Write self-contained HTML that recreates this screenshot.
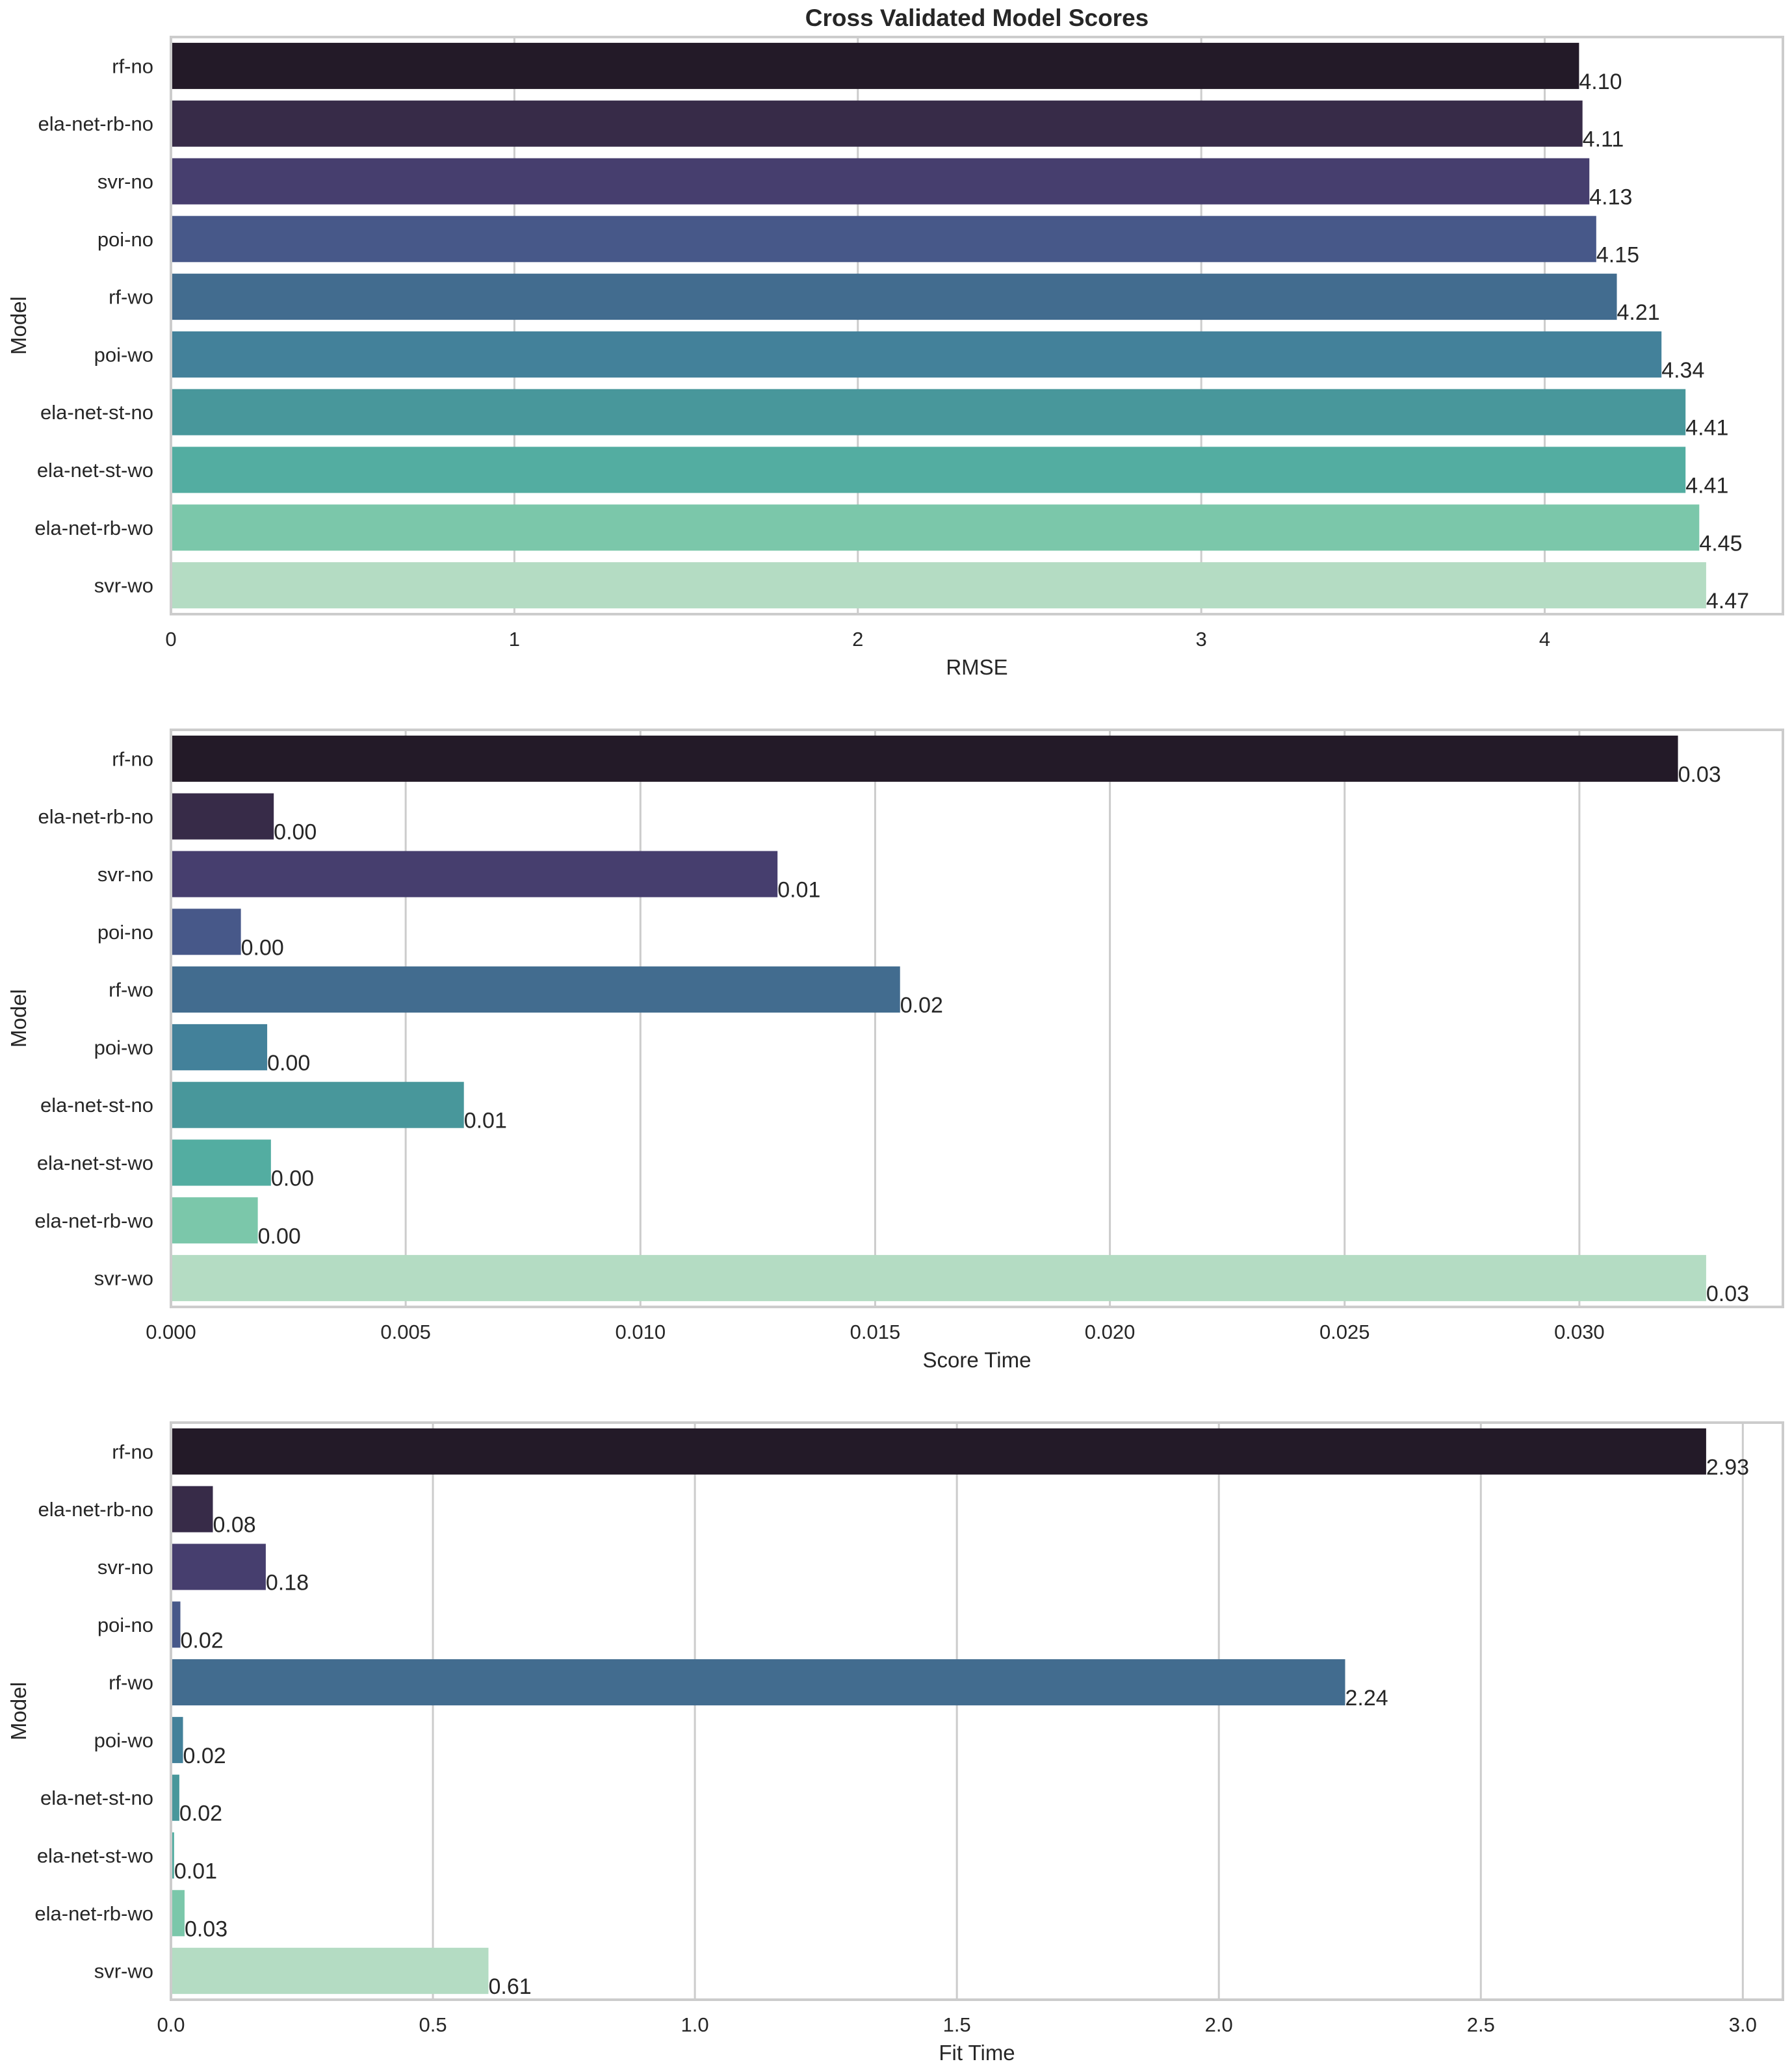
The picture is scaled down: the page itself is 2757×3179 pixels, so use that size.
<!DOCTYPE html>
<html><head><meta charset="utf-8"><style>
html,body{margin:0;padding:0;background:#fff;}
svg{display:block;font-family:"Liberation Sans",Arial,sans-serif;}
</style></head><body>
<svg id="chart" width="2757" height="3179" viewBox="0 0 2757 3179" xmlns="http://www.w3.org/2000/svg">
<rect width="2757" height="3179" fill="#fff"/>
<text x="1503" y="40" text-anchor="middle" font-size="37" font-weight="bold" fill="#262626">Cross Validated Model Scores</text>
</svg>
<script>
const categories = ["rf-no","ela-net-rb-no","svr-no","poi-no","rf-wo","poi-wo","ela-net-st-no","ela-net-st-wo","ela-net-rb-wo","svr-wo"];
const colors = ["#231a28","#372b48","#463e6e","#475889","#426c8f","#43819a","#48979b","#53ada1","#7bc7aa","#b4dcc3"];
const rmseValues = [4.10,4.11,4.13,4.15,4.21,4.34,4.41,4.41,4.45,4.47];
const scoreTimeValues = [0.0321,0.00219,0.01292,0.00149,0.01553,0.00205,0.00624,0.00213,0.00185,0.0327];
const fitTimeValues = [2.93,0.080,0.181,0.018,2.241,0.023,0.016,0.006,0.026,0.606];
const rmseTicks = [0,1,2,3,4];
const scoreTicks = [0,0.005,0.010,0.015,0.020,0.025,0.030];
const fitTicks = [0,0.5,1.0,1.5,2.0,2.5,3.0];
const rmseTickLabels = ["0","1","2","3","4"];
const scoreTickLabels = ["0.000","0.005","0.010","0.015","0.020","0.025","0.030"];
const fitTickLabels = ["0.0","0.5","1.0","1.5","2.0","2.5","3.0"];

const svg = document.getElementById('chart');
const NS = "http://www.w3.org/2000/svg";
function mk(tag, attrs){const e=document.createElementNS(NS,tag);for(const k in attrs)e.setAttribute(k,attrs[k]);return e;}

function panel(top, values, ticks, tickLabels, xlabel, key){
  const L=263, R=2743, B=top+888, H=888;
  const vmax=Math.max(...values)*1.05;
  const x=v=>L+(v/vmax)*(R-L);
  const step=H/categories.length;
  const g=mk('g',{});
  
  
  svg.appendChild(g);
  ticks.forEach((t,i)=>{
    const gl=mk('line',{x1:x(t),x2:x(t),y1:top,y2:B,stroke:'#cccccc','stroke-width':3});
    
    
    g.appendChild(gl);
    const tl=mk('text',{x:x(t),y:B+49,'text-anchor':'middle','font-size':31,fill:'#262626'});
    tl.textContent=tickLabels[i];
    
    
    g.appendChild(tl);
  });
  categories.forEach((c,i)=>{
    const cy=top+step*(i+0.5);
    const bh=step*0.8;
    const r=mk('rect',{x:L,y:cy-bh/2,width:x(values[i])-L,height:bh,fill:colors[i]});
    
    
    g.appendChild(r);
    const vl=mk('text',{x:x(values[i]),y:cy+bh/2,'font-size':34,fill:'#262626'});
    vl.textContent=values[i].toFixed(2);
    
    
    g.appendChild(vl);
    const yl=mk('text',{x:236,y:cy+11,'text-anchor':'end','font-size':31,fill:'#262626'});
    yl.textContent=c;
    
    
    g.appendChild(yl);
  });
  const fr=mk('rect',{x:L,y:top,width:R-L,height:H,fill:'none',stroke:'#cccccc','stroke-width':4});
  
  
  g.appendChild(fr);
  const xl=mk('text',{x:(L+R)/2,y:B+93,'text-anchor':'middle','font-size':33,fill:'#262626'});
  xl.textContent=xlabel;
  
  
  g.appendChild(xl);
  const ylab=mk('text',{x:0,y:0,'text-anchor':'middle','font-size':33,fill:'#262626',transform:`translate(40,${top+H/2}) rotate(-90)`});
  ylab.textContent='Model';
  
  
  g.appendChild(ylab);
}
panel(57, rmseValues, rmseTicks, rmseTickLabels, 'RMSE', 'rmse');
panel(1123, scoreTimeValues, scoreTicks, scoreTickLabels, 'Score Time', 'score-time');
panel(2189, fitTimeValues, fitTicks, fitTickLabels, 'Fit Time', 'fit-time');
</script>
</body></html>
